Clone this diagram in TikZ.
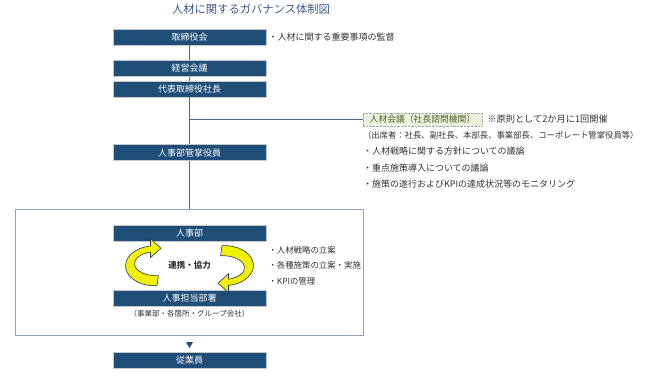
\documentclass[tikz,border=0pt]{standalone}
\usepackage{fontspec}
\setmainfont{Noto Sans CJK JP}
\usepackage{xcolor}
\usepackage{tikz}
\usetikzlibrary{arrows.meta,positioning,shapes.geometric,calc}
\definecolor{hrNavy}{HTML}{1F4E79}
\definecolor{hrLine}{HTML}{46688A}
\definecolor{hrFrame}{HTML}{8EA6BF}
\definecolor{hrTitle}{HTML}{3A5A85}
\definecolor{hrText}{HTML}{333333}
\definecolor{hrGreenBg}{HTML}{EBF1DE}
\definecolor{hrGreen}{HTML}{4F6228}
\definecolor{hrYellow}{HTML}{F0F000}
\definecolor{hrOutline}{HTML}{26384F}
\tikzset{
  % Dark blue organisation box
  obox/.style={rectangle,minimum width=153pt,minimum height=16pt,
    inner sep=0pt,fill=hrNavy,draw=gray!45,line width=0.6pt,
    text=white,font=\fontsize{9}{10}\selectfont},
  % Advisory council box (green, dotted)
  cbox/.style={rectangle,minimum width=119pt,minimum height=13pt,
    inner sep=0pt,fill=hrGreenBg,draw=gray!70,densely dotted,
    text=hrGreen,font=\fontsize{8.8}{10}\selectfont},
  % Outer frame round the HR units
  frm/.style={rectangle,draw=hrFrame,line width=1pt,
    minimum width=348pt,minimum height=126pt,inner sep=0pt},
  % Plain text beside the boxes
  note/.style={font=\fontsize{9}{16}\selectfont,text=hrText,
    align=left,inner sep=0pt},
  % Connecting lines
  link/.style={draw=hrLine,line width=1.2pt},
  % Yellow cycle arrows
  cyc/.style={fill=hrYellow,draw=hrOutline,line width=0.6pt,line join=round},
}

\begin{document}
\begin{tikzpicture}[x=1pt,y=1pt]
  \useasboundingbox (0,0) rectangle (645,377);

  \node[font=\fontsize{11.3}{12}\selectfont,text=hrTitle] (title) at (251,368)
    {人材に関するガバナンス体制図};

  %% --- MANAGEMENT CHAIN ---
  \node[obox] (board) at (189.5,340) {取締役会};
  \node[obox,below=15pt of board] (mgmt) {経営会議};
  \node[obox,below=4pt of mgmt] (pres) {代表取締役社長};
  \node[obox,below=47pt of pres] (officer) {人事部管掌役員};

  \node[note,anchor=west,right=2pt of board] (duty) {・人材に関する重要事項の監督};

  %% --- ADVISORY COUNCIL ---
  \node[cbox] (council) at (422.5,257.5) {人材会議（社長諮問機関）};
  \node[note,anchor=west,right=5pt of council,font=\fontsize{9.2}{10}\selectfont]
    (freq) {※原則として2か月に1回開催};
  \node[note,anchor=north west,font=\fontsize{9}{16.3}\selectfont] (members)
    at ([yshift=-5pt]council.south west)
    {{\fontsize{8.35}{16.3}\selectfont（出席者：社長、副社長、本部長、事業部長、コーポレート管掌役員等）}\\
     ・人材戦略に関する方針についての議論\\
     ・重点施策導入についての議論\\
     ・施策の遂行およびKPIの達成状況等のモニタリング};

  %% --- HR UNITS ---
  \node[frm,below=48pt of officer] (frame) {};
  \node[obox,below=16pt of frame.north] (hrdept) {人事部};
  \node[obox,below=48pt of hrdept] (hrunits) {人事担当部署};
  \node[font=\fontsize{8.5}{10}\selectfont\bfseries,text=hrText] (coop)
    at ($(hrdept)!0.5!(hrunits)$) {連携・協力};
  \node[note,font=\fontsize{7.5}{9}\selectfont,below=4pt of hrunits] (units)
    {（事業部・各箇所・グループ会社）};
  \node[note,anchor=west,font=\fontsize{8.4}{15.5}\selectfont] (tasks)
    at ($(hrdept.east |- coop)+(2,0)$)
    {・人材戦略の立案\\・各種施策の立案・実施\\・KPIの管理};

  %% --- EMPLOYEES ---
  \node[obox,below=16pt of frame] (staff) {従業員};
  \node[regular polygon,regular polygon sides=3,shape border rotate=180,
    fill=hrNavy,minimum size=8pt,inner sep=0pt] (tri)
    at ($(frame.south)!0.5!(staff.north)$) {};

  % Lines of the chain
  \draw[link] (board) -- (mgmt);
  \draw[link] (mgmt) -- (pres);
  \draw[link] (pres) -- (officer);
  \draw[link] (officer) -- (frame.north);
  \coordinate (branch) at (pres.south |- council.west);
  \draw[link] (branch) -- (council);

  % Cycle arrows round the centre label
  \begin{scope}[shift={(coop)}]
    \filldraw[cyc] (-32.5,-19.9) -- (-31.08,-9.95)
      arc[start angle=275,end angle=106,x radius=22,y radius=12]
      -- (-39,8) -- (-28.5,17.5) -- (-39,27) -- (-39,19.7)
      arc[start angle=98,end angle=275,x radius=29,y radius=20] -- cycle;
  \end{scope}
  \begin{scope}[shift={(coop)},rotate=180]
    \filldraw[cyc] (-32.5,-19.9) -- (-31.08,-9.95)
      arc[start angle=275,end angle=106,x radius=22,y radius=12]
      -- (-39,8) -- (-28.5,17.5) -- (-39,27) -- (-39,19.7)
      arc[start angle=98,end angle=275,x radius=29,y radius=20] -- cycle;
  \end{scope}
\end{tikzpicture}
\end{document}
